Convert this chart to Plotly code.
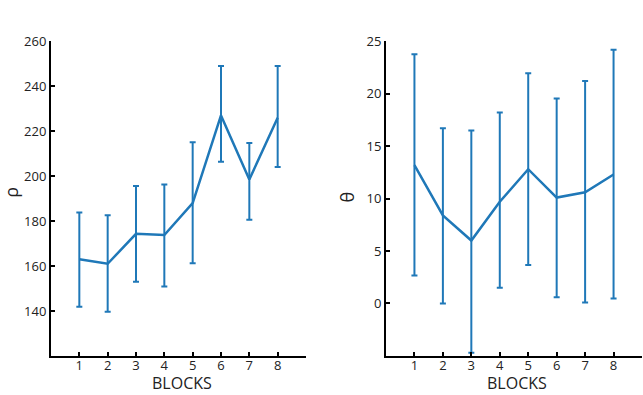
import plotly.graph_objects as go

blocks = [1, 2, 3, 4, 5, 6, 7, 8]
x_ticks = [1, 2, 3, 4, 5, 6, 7, 8]

rho_mean = [163, 161, 174.3, 173.8, 188, 227, 198.5, 226]
rho_upper = [183.8, 182.6, 195.6, 196.3, 215.1, 249, 214.7, 249]
rho_lower = [141.9, 139.7, 153, 150.9, 161.2, 206.4, 180.6, 204.1]
rho_ticks = [140, 160, 180, 200, 220, 240, 260]

theta_mean = [13.2, 8.4, 6.0, 9.7, 12.8, 10.1, 10.6, 12.3]
theta_upper = [23.75, 16.7, 16.5, 18.2, 21.95, 19.55, 21.2, 24.2]
theta_lower = [2.67, 0.0, -4.7, 1.49, 3.67, 0.59, 0.09, 0.47]
theta_ticks = [0, 5, 10, 15, 20, 25]

color = "#1f78b8"
W, H = 643, 395

def err(mean, up, lo):
    return dict(type="data", symmetric=False,
                array=[u - m for u, m in zip(up, mean)],
                arrayminus=[m - l for m, l in zip(mean, lo)],
                color=color, thickness=2, width=3)

fig = go.Figure()
fig.add_trace(go.Scatter(x=blocks, y=rho_mean, mode="lines",
                         line=dict(color=color, width=2.5),
                         error_y=err(rho_mean, rho_upper, rho_lower),
                         xaxis="x", yaxis="y", showlegend=False))
fig.add_trace(go.Scatter(x=blocks, y=theta_mean, mode="lines",
                         line=dict(color=color, width=2.5),
                         error_y=err(theta_mean, theta_upper, theta_lower),
                         xaxis="x2", yaxis="y2", showlegend=False))

ydom = [(H - 355) / H, (H - 33) / H]
font = dict(family="Open Sans", size=13, color="#222222")
axis_common = dict(showline=True, linecolor="black", linewidth=2, ticks="inside",
                   ticklen=4, tickwidth=1.5, tickcolor="black", showgrid=False,
                   zeroline=False, tickfont=font)

def ann(text, px, py, size, angle=0):
    return dict(text=text, x=px / W, y=(H - py) / H, xref="paper", yref="paper",
                xanchor="center", yanchor="middle", textangle=angle,
                showarrow=False,
                font=dict(family="Open Sans", size=size, color="#222222"))

fig.update_layout(
    width=W, height=H, margin=dict(l=0, r=0, t=0, b=0),
    plot_bgcolor="white", paper_bgcolor="white",
    xaxis=dict(domain=[51 / W, 306 / W], range=[0, 9], tickvals=x_ticks,
               anchor="y", ticklabelstandoff=-4, **axis_common),
    yaxis=dict(domain=ydom, range=[120, 260], tickvals=rho_ticks,
               anchor="x", **axis_common),
    xaxis2=dict(domain=[386 / W, 642 / W], range=[0, 9], tickvals=x_ticks,
                anchor="y2", ticklabelstandoff=-4, **axis_common),
    yaxis2=dict(domain=ydom, range=[-5, 25], tickvals=theta_ticks,
                anchor="x2", **axis_common),
    annotations=[
        ann("BLOCKS", 182, 383, 16),
        ann("BLOCKS", 517, 383, 16),
        ann("ρ", 11, 188, 18, -90),
        ann("θ", 347, 193, 18, -90),
    ],
)

fig.write_html("out.html")
